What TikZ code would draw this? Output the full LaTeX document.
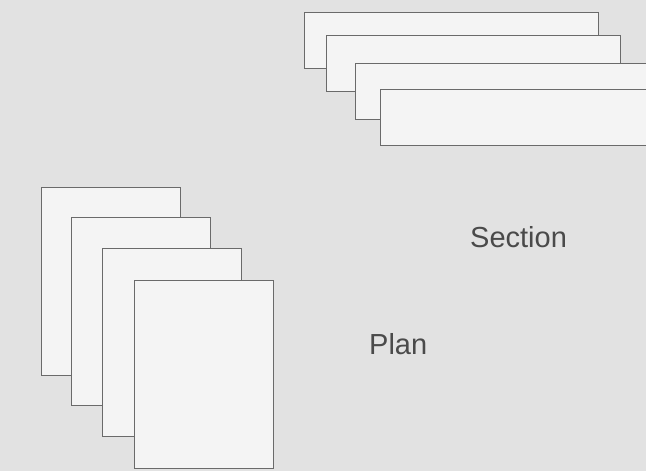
\documentclass[tikz,border=0pt]{standalone}
\usepackage{fontspec}
\setmainfont{Liberation Sans}

\definecolor{bggrey}{HTML}{E2E2E2}
\definecolor{sheetfill}{HTML}{F4F4F4}
\definecolor{sheetline}{HTML}{6A6A6A}
\definecolor{labelgrey}{HTML}{4A4A4A}

\tikzset{
    sheet/.style={draw=sheetline, fill=sheetfill, line width=1pt},
    label/.style={anchor=base west, inner sep=0pt, text=labelgrey,
                  font=\fontsize{29}{34}\selectfont}
}

\begin{document}
\begin{tikzpicture}[x=1pt, y=-1pt]

    % Background
    \fill[bggrey] (0,0) rectangle (646,471);
    \useasboundingbox (0,0) rectangle (646,471);

    % Section sheets
    \foreach \x/\y in {304/12, 326/35, 355/63, 380/89}
        \draw[sheet] (\x,\y) rectangle ++(294,56);

    % Plan sheets
    \foreach \x/\y in {41/187, 71/217, 102/248, 134/280}
        \draw[sheet] (\x,\y) rectangle ++(139,188);

    % Labels
    \node[label] (section) at (470,247) {Section};
    \node[label] (plan) at (369,354) {Plan};

\end{tikzpicture}
\end{document}
